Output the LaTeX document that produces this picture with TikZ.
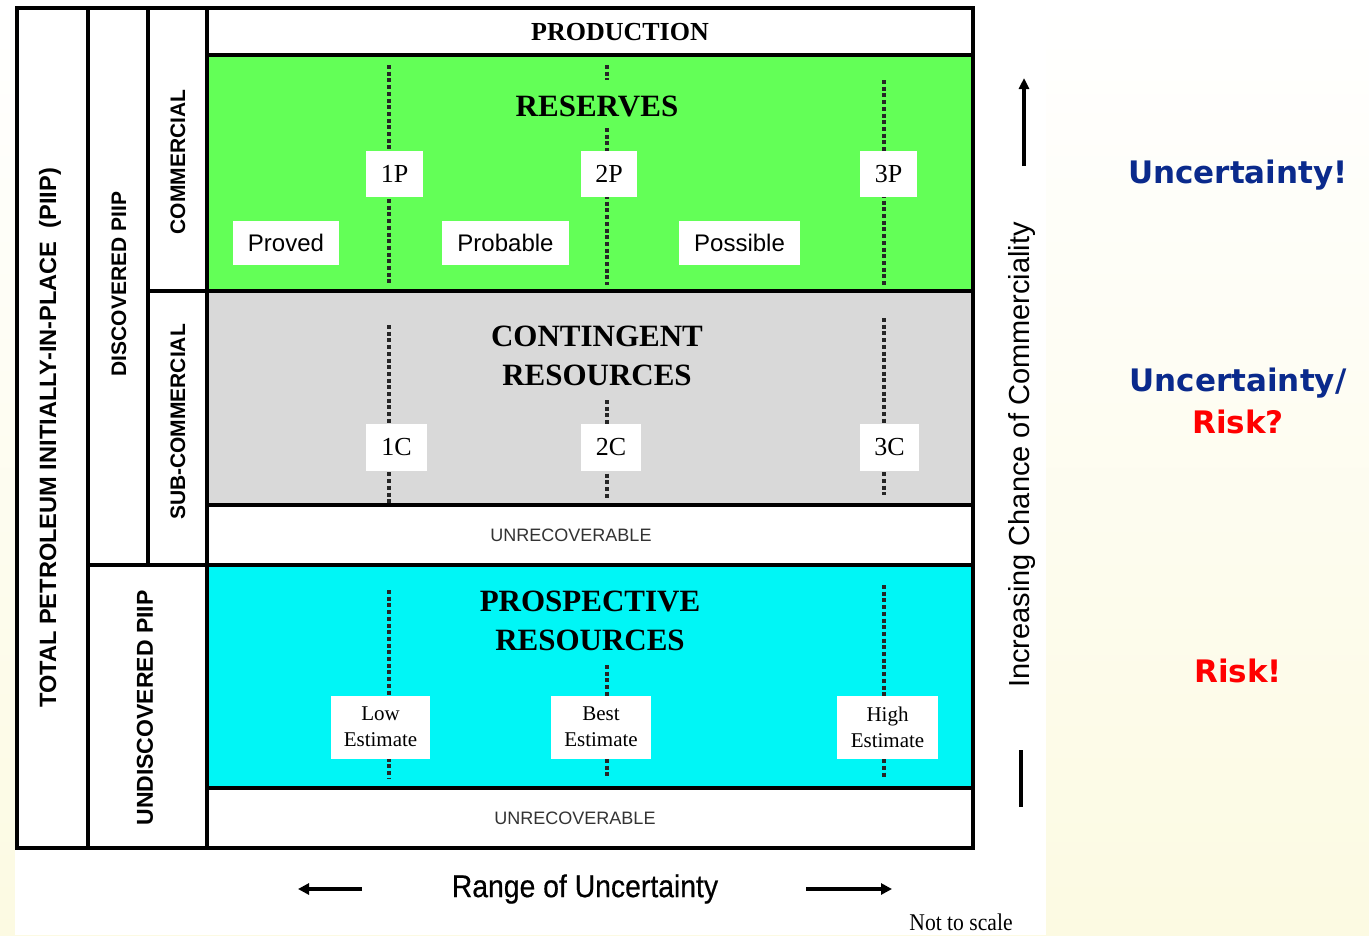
\documentclass[tikz,border=0pt]{standalone}
\usepackage{fontspec}
\setmainfont{Liberation Serif}
\setsansfont{Liberation Sans}
\newfontfamily\dejavu{DejaVu Sans}
\newfontfamily\narrowsans[FakeStretch=0.9, FakeBold=0.5]{Liberation Sans}
\newfontfamily\narrowserif[FakeStretch=0.9]{Liberation Serif}
\usetikzlibrary{arrows.meta}
\definecolor{resgreen}{RGB}{99,255,87}
\definecolor{congray}{RGB}{217,217,217}
\definecolor{procyan}{RGB}{0,246,246}
\definecolor{navyblue}{RGB}{10,42,140}
\definecolor{cream}{RGB}{252,250,226}
\tikzset{
  frameline/.style={line width=3.5pt},
  bigtitle/.style={font=\fontsize{31}{39}\selectfont\bfseries, align=center, inner sep=0pt},
  tagbox/.style={fill=white, inner sep=0pt, align=center},
  serifsmall/.style={font=\fontsize{26}{28}\selectfont},
  sanstag/.style={font=\sffamily\fontsize{24}{26}\selectfont},
  esttag/.style={font=\fontsize{21}{26}\selectfont},
  dots/.style={line width=3.6pt, dash pattern=on 4pt off 2.7pt, black!85},
  sidelabel/.style={rotate=90, font=\sffamily\bfseries\fontsize{21}{24}\selectfont, inner sep=0pt},
  unrec/.style={font=\sffamily\fontsize{18}{20}\selectfont, text=black!80},
  righttext/.style={font=\dejavu\bfseries\fontsize{31}{36}\selectfont},
  bigarrow/.style={line width=3.5pt, -{Triangle[length=11pt,width=11pt]}},
}
\begin{document}
\begin{tikzpicture}[x=1pt,y=-1pt]
\useasboundingbox (0,0) rectangle (1369,935);
% background
\shade[top color=white, bottom color=cream] (0,0) rectangle (1369,935);
\fill[white] (15,0) rectangle (1046,935);
% coloured bands
\fill[resgreen] (207,55) rectangle (973,291);
\fill[congray] (207,291) rectangle (973,505);
\fill[procyan] (207,565) rectangle (973,788);
% frame lines
\draw[frameline] (17,8) rectangle (973,848);
\draw[frameline] (88,8) -- (88,848);
\draw[frameline] (148,8) -- (148,565);
\draw[frameline] (207,8) -- (207,848);
\draw[frameline] (207,55) -- (973,55);
\draw[frameline] (148,291) -- (973,291);
\draw[frameline] (207,505) -- (973,505);
\draw[frameline] (88,565) -- (973,565);
\draw[frameline] (207,788) -- (973,788);

% dotted line end points
\coordinate (r1t) at (389,65);   \coordinate (r1b) at (389,285);
\coordinate (r2t) at (607,65);   \coordinate (r2m) at (607,80);
\coordinate (r2n) at (607,128);  \coordinate (r2b) at (607,285);
\coordinate (r3t) at (884,80);   \coordinate (r3b) at (884,285);
\coordinate (c1t) at (389,325);  \coordinate (c1b) at (389,503);
\coordinate (c2t) at (607,400);  \coordinate (c2b) at (607,500);
\coordinate (c3t) at (884,318);  \coordinate (c3b) at (884,495);
\coordinate (p1t) at (389,590);  \coordinate (p1b) at (389,778);
\coordinate (p2t) at (607,665);  \coordinate (p2b) at (607,778);
\coordinate (p3t) at (884,585);  \coordinate (p3b) at (884,778);
\draw[dots] (r1t) -- (r1b);
\draw[dots] (r2t) -- (r2m);
\draw[dots] (r2n) -- (r2b);
\draw[dots] (r3t) -- (r3b);
\draw[dots] (c1t) -- (c1b);
\draw[dots] (c2t) -- (c2b);
\draw[dots] (c3t) -- (c3b);
\draw[dots] (p1t) -- (p1b);
\draw[dots] (p2t) -- (p2b);
\draw[dots] (p3t) -- (p3b);

% titles
\node[font=\fontsize{26}{30}\selectfont\bfseries] (prod) at (620,32) {PRODUCTION};
\node[bigtitle] (res) at (597,106) {RESERVES};
\node[bigtitle] (cont) at (597,356) {CONTINGENT\\RESOURCES};
\node[bigtitle] (pros) at (590,621) {PROSPECTIVE\\RESOURCES};
\node[unrec] (unrec1) at (571,535) {UNRECOVERABLE};
\node[unrec] (unrec2) at (575,818) {UNRECOVERABLE};

% tag boxes
\node[tagbox, serifsmall, minimum width=57pt, minimum height=46pt] (t1p) at (394.5,174) {1P};
\node[tagbox, serifsmall, minimum width=56pt, minimum height=46pt] (t2p) at (609,174) {2P};
\node[tagbox, serifsmall, minimum width=57pt, minimum height=46pt] (t3p) at (888.5,174) {3P};
\node[tagbox, sanstag, minimum width=106pt, minimum height=44pt] (proved) at (286,243) {Proved};
\node[tagbox, sanstag, minimum width=127pt, minimum height=44pt] (probable) at (505.5,243) {Probable};
\node[tagbox, sanstag, minimum width=121pt, minimum height=44pt] (possible) at (739.5,243) {Possible};
\node[tagbox, serifsmall, minimum width=61pt, minimum height=47pt] (t1c) at (396.5,447) {1C};
\node[tagbox, serifsmall, minimum width=60pt, minimum height=47pt] (t2c) at (611,447) {2C};
\node[tagbox, serifsmall, minimum width=59pt, minimum height=47pt] (t3c) at (889.5,447) {3C};
\node[tagbox, esttag, minimum width=99pt, minimum height=63pt] (low) at (380.5,727) {Low\\Estimate};
\node[tagbox, esttag, minimum width=100pt, minimum height=63pt] (best) at (601,727) {Best\\Estimate};
\node[tagbox, esttag, minimum width=101pt, minimum height=63pt] (high) at (887.5,727) {High\\Estimate};

% side labels
\node[sidelabel, font=\sffamily\bfseries\fontsize{23.6}{26}\selectfont] (total) at (50,438) {TOTAL PETROLEUM INITIALLY-IN-PLACE~~(PIIP)};
\node[sidelabel] (disc) at (119,284) {DISCOVERED PIIP};
\node[sidelabel, font=\sffamily\bfseries\fontsize{23}{26}\selectfont] (undisc) at (145,708) {UNDISCOVERED PIIP};
\node[sidelabel] (comm) at (178,162) {COMMERCIAL};
\node[sidelabel] (subcomm) at (178,422) {SUB-COMMERCIAL};

% commerciality axis
\node[rotate=90, font=\sffamily\fontsize{29}{32}\selectfont, inner sep=0pt] (incr) at (1022,455) {Increasing Chance of Commerciality};
\coordinate (upbot) at (1024,166);
\coordinate (uptop) at (1024,78);
\draw[line width=3.2pt, -{Triangle[length=11pt,width=10pt]}] (upbot) -- (uptop);
\coordinate (lowtop) at (1021,750);
\coordinate (lowbot) at (1021,807);
\draw[line width=3.2pt] (lowtop) -- (lowbot);

% uncertainty axis
\node[font=\narrowsans\fontsize{31.5}{34}\selectfont] (range) at (585,889) {Range of Uncertainty};
\coordinate (la) at (362,889); \coordinate (lb) at (298,889);
\coordinate (ra) at (806,889); \coordinate (rb) at (892,889);
\draw[bigarrow] (la) -- (lb);
\draw[bigarrow] (ra) -- (rb);
\node[font=\narrowserif\fontsize{24}{26}\selectfont] (nts) at (961,922) {Not to scale};

% right side
\node[righttext, text=navyblue] (u1) at (1238,175) {Uncertainty!};
\node[righttext, text=navyblue] (u2) at (1238,383) {Uncertainty/};
\node[righttext, text=red] (r1) at (1238,422) {Risk?};
\node[righttext, text=red] (r2) at (1238,671) {Risk!};
\end{tikzpicture}
\end{document}
